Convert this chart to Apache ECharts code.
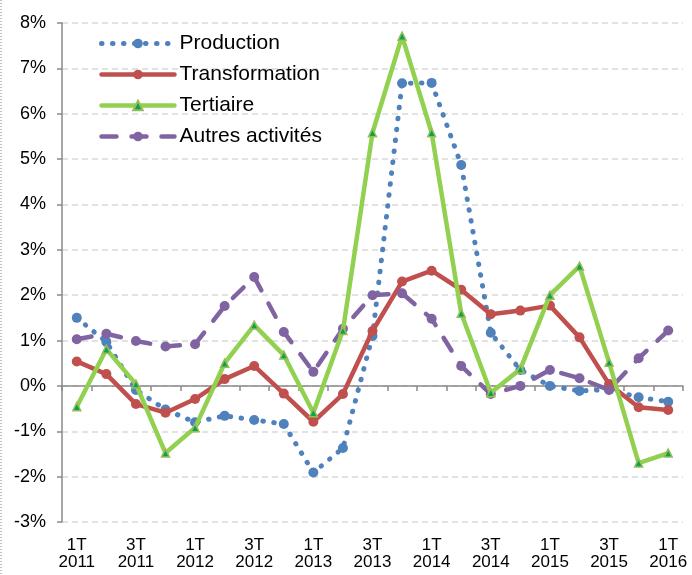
<!DOCTYPE html>
<html>
<head>
<meta charset="utf-8">
<script src="https://cdn.jsdelivr.net/npm/echarts@6/dist/echarts.min.js"></script>
<style>
  html, body { margin: 0; padding: 0; background: #fff; }
  #chart { width: 692px; height: 575px; }
</style>
</head>
<body>
<div id="chart"></div>
<script>
// trimestres 1T 2011 -> 1T 2016
const quarters = ['1T 2011', '2T 2011', '3T 2011', '4T 2011', '1T 2012', '2T 2012', '3T 2012', '4T 2012',
  '1T 2013', '2T 2013', '3T 2013', '4T 2013', '1T 2014', '2T 2014', '3T 2014', '4T 2014',
  '1T 2015', '2T 2015', '3T 2015', '4T 2015', '1T 2016']

// valeurs en %
const production = [1.50, 0.97, -0.09, -0.52, -0.80, -0.66, -0.75, -0.84, -1.91, -1.37, 1.10,
  6.67, 6.68, 4.87, 1.17, 0.35, 0.00, -0.11, -0.08, -0.25, -0.35]
const transformation = [0.54, 0.26, -0.40, -0.59, -0.29, 0.15, 0.44, -0.17, -0.79, -0.18, 1.21,
  2.30, 2.54, 2.12, 1.58, 1.66, 1.77, 1.07, 0.04, -0.47, -0.53]
const tertiaire = [-0.46, 0.81, 0.04, -1.48, -0.92, 0.50, 1.34, 0.68, -0.59, 1.22, 5.58,
  7.71, 5.58, 1.60, -0.15, 0.37, 2.00, 2.64, 0.52, -1.70, -1.48]
const autres = [1.03, 1.15, 0.99, 0.87, 0.92, 1.76, 2.40, 1.19, 0.31, 1.26, 2.00,
  2.04, 1.48, 0.44, -0.18, 0.00, 0.35, 0.17, -0.09, 0.61, 1.22]

const yTicks = { min: -3, max: 8, step: 1 }

const chart = echarts.init(document.getElementById('chart'))

const axisGray = '#8a8a8a'
const font = 'Liberation Sans, Arial, sans-serif'

const styles = {
  prod: { color: '#4F81BD', width: 5, type: [0.5, 10.5], cap: 'round' },
  trans: { color: '#C0504D', width: 4.5, cap: 'round', join: 'round' },
  tert: { color: '#92D050', width: 4.5, cap: 'round', join: 'round' },
  autres: { color: '#8064A2', width: 4.5, type: [15, 15], cap: 'round' }
}

const option = {
  animation: false,
  textStyle: { fontFamily: font, color: '#000' },
  grid: { left: 62, right: 9, top: 23, bottom: 53 },
  graphic: [{
    type: 'line',
    shape: { x1: 1, y1: 0, x2: 1, y2: 575 },
    style: { stroke: '#888', lineWidth: 1, lineDash: [1, 2] }
  }],
  legend: {
    orient: 'vertical',
    left: 94,
    top: 28,
    itemWidth: 73,
    itemHeight: 12,
    itemGap: 10,
    textStyle: { fontSize: 21, lineHeight: 21, color: '#000', fontFamily: font },
    data: [
      { name: 'Production', lineStyle: styles.prod },
      { name: 'Transformation', lineStyle: styles.trans },
      { name: 'Tertiaire', lineStyle: styles.tert },
      { name: 'Autres activités', lineStyle: styles.autres }
    ]
  },
  xAxis: [
    {
      type: 'category',
      data: quarters,
      position: 'bottom',
      axisLine: { show: false, onZero: false },
      axisTick: { show: false },
      axisLabel: {
        interval: 1,
        fontSize: 17,
        lineHeight: 17,
        margin: 15,
        color: '#000',
        formatter: (v) => v.replace(' ', '\n')
      },
      splitLine: { show: false }
    },
    {
      type: 'category',
      data: quarters,
      position: 'bottom',
      axisLine: { show: true, onZero: true, lineStyle: { color: axisGray, width: 1.5 } },
      axisTick: { show: true, interval: 0, length: 5, lineStyle: { color: axisGray, width: 1.5 } },
      axisLabel: { show: false },
      splitLine: { show: false }
    }
  ],
  yAxis: {
    type: 'value',
    min: yTicks.min,
    max: yTicks.max,
    interval: yTicks.step,
    axisLine: { show: true, lineStyle: { color: axisGray, width: 1.5 } },
    axisTick: { show: true, length: 5, lineStyle: { color: axisGray, width: 1.5 } },
    axisLabel: { fontSize: 18, margin: 16, color: '#000', formatter: '{value}%' },
    splitLine: { lineStyle: { color: '#d9d9d9', width: 1.5, type: [6, 4] } }
  },
  series: [
    {
      name: 'Production',
      type: 'line',
      data: production,
      symbol: 'circle',
      symbolSize: 10,
      itemStyle: { color: '#4F81BD' },
      lineStyle: styles.prod,
      z: 2
    },
    {
      name: 'Transformation',
      type: 'line',
      data: transformation,
      symbol: 'circle',
      symbolSize: 10,
      itemStyle: { color: '#C0504D' },
      lineStyle: styles.trans,
      z: 3
    },
    {
      name: 'Tertiaire',
      type: 'line',
      data: tertiaire,
      symbol: 'triangle',
      symbolSize: 8,
      itemStyle: { color: '#00A650', borderColor: '#9BBB59', borderWidth: 1.5 },
      lineStyle: styles.tert,
      z: 4
    },
    {
      name: 'Autres activités',
      type: 'line',
      data: autres,
      symbol: 'circle',
      symbolSize: 10,
      itemStyle: { color: '#8064A2' },
      lineStyle: styles.autres,
      z: 3
    }
  ]
}

chart.setOption(option)
</script>
</body>
</html>
